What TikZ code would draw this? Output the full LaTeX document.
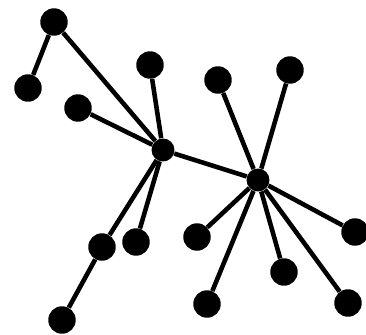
\documentclass[tikz,border=0pt]{standalone}
\usepackage{tikz}
\usetikzlibrary{positioning}

\begin{document}
\begin{tikzpicture}[x=0.02cm, y=-0.02cm,
    leaf/.style={circle, fill=black, inner sep=0pt, minimum size=0.55cm},
    hub/.style={circle, fill=black, inner sep=0pt, minimum size=0.46cm},
    edge/.style={line width=2.6pt}]
    \useasboundingbox (0,0) rectangle (366,335);

    % centros
    \node[hub] (h1) at (163,150) {};
    \node[hub] (h2) at (258,180) {};
    % hojas
    \node[leaf] (a) at (54,22) {};
    \node[leaf] (b) at (28,88) {};
    \node[leaf] (c) at (150,65) {};
    \node[leaf] (d) at (78,108) {};
    \node[leaf] (e) at (218,80) {};
    \node[leaf] (f) at (290,70) {};
    \node[leaf] (g) at (355,232) {};
    \node[leaf] (h) at (284,272) {};
    \node[leaf] (i) at (348,303) {};
    \node[leaf] (j) at (207,304) {};
    \node[leaf] (k) at (197,237) {};
    \node[leaf] (l) at (136,242) {};
    \node[leaf] (m) at (102,247) {};
    \node[leaf] (n) at (62,320) {};

    \draw[edge] (a) -- (b);
    \draw[edge] (a) -- (h1);
    \draw[edge] (c) -- (h1);
    \draw[edge] (d) -- (h1);
    \draw[edge] (h1) -- (h2);
    \draw[edge] (h1) -- (l);
    \draw[edge] (h1) -- (m) -- (n);
    \foreach \t in {e,f,g,h,i,j,k}
        \draw[edge] (h2) -- (\t);
\end{tikzpicture}
\end{document}
